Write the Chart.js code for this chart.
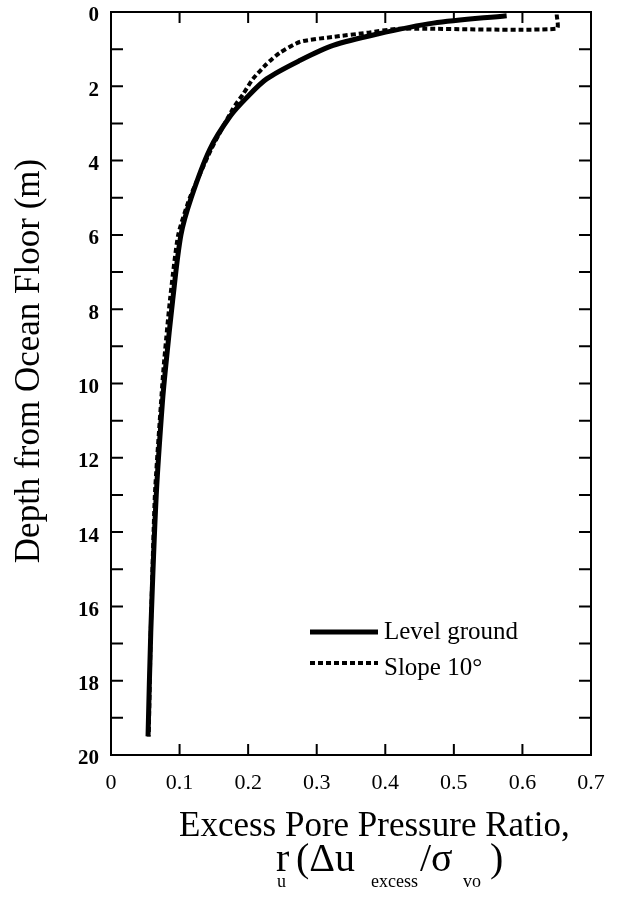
<!DOCTYPE html>
<html>
<head>
<meta charset="utf-8">
<script src="https://cdn.jsdelivr.net/npm/chart.js@4/dist/chart.umd.min.js"></script>
<style>
  html, body { margin: 0; padding: 0; background: #fff; }
  #wrap { width: 618px; height: 898px; }
</style>
</head>
<body>
<div id="wrap"><canvas id="ruChart"></canvas></div>
<script>
// Depth (m) and excess pore pressure ratio r_u
const depthLevel = [0.1, 0.3, 0.6, 0.9, 1.3, 1.8, 2.3, 2.8, 3.7, 5.0, 6.0, 7.75, 9.5, 10.5, 13.0, 16.7, 19.5]
const ruLevel    = [0.577, 0.47, 0.387, 0.324, 0.276, 0.227, 0.198, 0.174, 0.144, 0.117, 0.102, 0.09, 0.08, 0.075, 0.066, 0.058, 0.054]

const depthSlope = [0.07, 0.45, 0.45, 0.56, 0.67, 0.8, 1.1, 1.4, 1.8, 2.2, 2.6, 3.7, 5.0, 6.0, 7.75, 9.5, 10.5, 13.0, 16.7, 19.5]
const ruSlope    = [0.65, 0.65, 0.42, 0.373, 0.324, 0.276, 0.246, 0.227, 0.207, 0.193, 0.178, 0.146, 0.115, 0.098, 0.086, 0.077, 0.073, 0.064, 0.058, 0.055]

const xTickValues = [0, 0.1, 0.2, 0.3, 0.4, 0.5, 0.6, 0.7]
const yTickValues = [0, 2, 4, 6, 8, 10, 12, 14, 16, 18, 20]

const seriesNames = ['Level ground', 'Slope 10°']

const serif = '"Liberation Serif", "DejaVu Serif", serif'

const toPoints = (xs, ys) => xs.map((x, i) => ({ x: x, y: ys[i] }))

// frame, inside ticks on all four sides, legend and axis titles
const decorations = {
    id: 'decorations',
    afterDatasetsDraw(chart) {
        const ctx = chart.ctx
        const a = chart.chartArea
        const xs = chart.scales.x
        const ys = chart.scales.y
        ctx.save()
        ctx.strokeStyle = '#000'
        ctx.lineWidth = 2
        ctx.strokeRect(a.left, a.top, a.right - a.left, a.bottom - a.top)

        ctx.beginPath()
        for (let v = 1; v < 7; v++) {
            const px = xs.getPixelForValue(v / 10)
            ctx.moveTo(px, a.bottom); ctx.lineTo(px, a.bottom - 11)
            ctx.moveTo(px, a.top); ctx.lineTo(px, a.top + 11)
        }
        for (let v = 1; v < 20; v++) {
            const py = ys.getPixelForValue(v)
            ctx.moveTo(a.left, py); ctx.lineTo(a.left + 12, py)
            ctx.moveTo(a.right, py); ctx.lineTo(a.right - 12, py)
        }
        ctx.stroke()

        // legend
        const legendY = [632, 663]
        chart.data.datasets.forEach((ds, i) => {
            ctx.beginPath()
            ctx.lineWidth = ds.borderWidth
            ctx.setLineDash(ds.borderDash || [])
            ctx.moveTo(310, legendY[i])
            ctx.lineTo(378, legendY[i])
            ctx.stroke()
            ctx.setLineDash([])
            ctx.fillStyle = '#000'
            ctx.font = '25px ' + serif
            ctx.textBaseline = 'middle'
            ctx.textAlign = 'left'
            ctx.fillText(ds.label, 384, legendY[i] + (i === 0 ? 0 : 5))
        })
        ctx.restore()
    },
    afterDraw(chart) {
        const ctx = chart.ctx
        ctx.save()
        ctx.fillStyle = '#000'
        ctx.textBaseline = 'alphabetic'

        // y title
        ctx.save()
        ctx.translate(39, 361)
        ctx.rotate(-Math.PI / 2)
        ctx.textAlign = 'center'
        ctx.font = '35px ' + serif
        ctx.fillText('Depth from Ocean Floor (m)', 0, 0)
        ctx.restore()

        // x title, two lines with subscripts
        ctx.textAlign = 'left'
        ctx.font = '35px ' + serif
        ctx.fillText('Excess Pore Pressure Ratio,', 179, 836)

        ctx.font = '40px ' + serif
        ctx.fillText('r', 276, 871)
        ctx.fillText('(\u0394u', 296, 871)
        ctx.fillText('/\u03c3', 420, 871)
        ctx.fillText(')', 490, 871)
        ctx.font = '18px ' + serif
        ctx.fillText('u', 277, 887)
        ctx.fillText('excess', 371, 887)
        ctx.fillText('vo', 463, 887)
        ctx.restore()
    }
}

new Chart(document.getElementById('ruChart'), {
    type: 'line',
    data: {
        datasets: [{
            label: seriesNames[0],
            data: toPoints(ruLevel, depthLevel),
            borderColor: '#000',
            borderWidth: 5,
            pointRadius: 0,
            tension: 0.3,
            fill: false
        }, {
            label: seriesNames[1],
            data: toPoints(ruSlope, depthSlope),
            borderColor: '#000',
            borderWidth: 4,
            borderDash: [5, 3],
            pointRadius: 0,
            tension: 0.2,
            fill: false
        }]
    },
    options: {
        responsive: true,
        maintainAspectRatio: false,
        animation: false,
        devicePixelRatio: 1,
        layout: { padding: { top: 12, right: 27, left: 0, bottom: 0 } },
        plugins: {
            legend: { display: false },
            tooltip: { enabled: false }
        },
        scales: {
            x: {
                type: 'linear',
                min: 0,
                max: 0.7,
                afterFit: s => { s.height = 143; s.paddingLeft = 0; s.paddingRight = 0 },
                afterBuildTicks: s => { s.ticks = xTickValues.map(v => ({ value: v })) },
                ticks: {
                    color: '#000',
                    padding: 15,
                    font: { family: serif, size: 22 },
                    callback: v => v === 0 ? '0' : Number(v).toFixed(1)
                },
                grid: { drawOnChartArea: false, drawTicks: false },
                border: { display: false }
            },
            y: {
                type: 'linear',
                reverse: true,
                min: 0,
                max: 20,
                afterFit: s => { s.width = 111; s.paddingTop = 0; s.paddingBottom = 0 },
                afterBuildTicks: s => { s.ticks = yTickValues.map(v => ({ value: v })) },
                ticks: {
                    color: '#000',
                    padding: 12,
                    labelOffset: 4,
                    font: { family: serif, size: 21, weight: 'bold' },
                    callback: v => String(v)
                },
                grid: { drawOnChartArea: false, drawTicks: false },
                border: { display: false }
            }
        }
    },
    plugins: [decorations]
});
</script>
</body>
</html>
